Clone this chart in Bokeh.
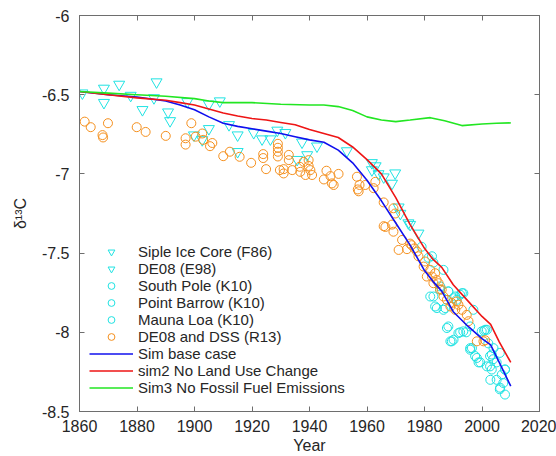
from bokeh.plotting import figure
from bokeh.models import LinearAxis, FixedTicker, Range1d, Legend, LegendItem
from bokeh.embed import file_html
from bokeh.resources import INLINE

# ---- data -------------------------------------------------------------
# ice-core / firn records (triangles)
siple_year = [1861, 1868.5, 1873.8, 1877.8, 1886.8, 1890.8, 1897.5, 1905, 1908.8,
              1912, 1920.6, 1928.8, 1937.4, 1942.6, 1953]
siple_d13c = [-6.49, -6.46, -6.435, -6.505, -6.42, -6.61, -6.545, -6.56, -6.54,
              -6.69, -6.74, -6.725, -6.80, -6.825, -6.855]

e98_year = [1868.5, 1881.9, 1885.9, 1891.5, 1899.8, 1902.7, 1905, 1915, 1915,
            1923.5, 1926.4, 1931.6, 1935.7, 1939.2, 1961.7, 1961.7, 1963, 1964,
            1965.8, 1968.7, 1969.8, 1971, 1971.6, 1974.4, 1975, 1977.9]
e98_d13c = [-6.55, -6.595, -6.52, -6.665, -6.755, -6.785, -6.715, -6.755, -6.86,
            -6.78, -6.78, -6.74, -6.91, -6.88, -6.93, -6.975, -6.95, -7.0,
            -7.02, -7.06, -6.995, -7.21, -7.25, -7.31, -7.32, -7.375]

# atmospheric flask records (cyan circles)
spo_year = [1981.4, 1982.6, 1983.1, 1985.5, 1986.6, 1988.3, 1990.7, 1992.4, 1993.5,
            1995.9, 1997, 1999.9, 2001.1, 2001.7, 2004, 2006.2, 2008]
spo_d13c = [-7.53, -7.52, -7.56, -7.71, -7.606, -7.742, -7.774, -7.763, -7.753,
            -7.963, -7.858, -7.994, -7.984, -7.984, -8.10, -8.13, -8.235]

brw_year = [1982, 1983.1, 1983.7, 1984.3, 1986.6, 1987.2, 1987.8, 1988.3, 1989,
            1989.5, 1990.1, 1991.8, 1993.5, 1995.9, 1996.5, 1997.6, 1998.2, 1998.8,
            2002.2, 2003.4, 2005.1, 2006.9]
brw_d13c = [-7.774, -7.774, -7.837, -7.847, -7.858, -7.847, -7.973, -7.963, -8.057,
            -8.057, -8.047, -8.005, -7.994, -8.11, -8.10, -8.15, -8.162, -8.19,
            -8.07, -8.14, -8.19, -8.267]

mlo_year = [1979, 1985.4, 1988.3, 1990.1, 1991.2, 1992.4, 1993, 1994.5, 1995.9,
            1999.4, 2000.7, 2001.7, 2002.8, 2002.8, 2002.9, 2003.4, 2003.9, 2005.1,
            2006.2, 2006.3, 2007.4, 2008, 2008]
mlo_d13c = [-7.46, -7.73, -7.742, -7.785, -7.795, -8.0, -7.753, -8.0, -8.10,
            -8.19, -7.99, -8.215, -8.15, -8.215, -8.30, -8.235, -8.17, -8.30,
            -8.36, -8.35, -8.32, -8.393, -8.235]

# DE08 and DSS firn/ice (orange circles)
r13_year = [1861.8, 1863.9, 1868, 1868.2, 1869.9, 1879.9, 1883, 1890, 1896.9, 1896.9,
            1898.9, 1900.4, 1902.7, 1903, 1905.4, 1906.2, 1910, 1912.3, 1915.7, 1919.7,
            1923.9, 1923.9, 1924.9, 1929, 1929, 1929, 1929, 1929.7, 1931, 1931,
            1932.8, 1932.8, 1934, 1936.6, 1936.8, 1938, 1938.6, 1939.7, 1939.7, 1940.3,
            1940.9, 1945, 1945.9, 1947.3, 1947.8, 1948.4, 1950.1, 1956.5, 1956.8, 1957.1,
            1957.4, 1959.4, 1962.3, 1962.9, 1965.8, 1965.8, 1966.4, 1968.7, 1969.2, 1969.2,
            1969.8, 1971, 1972.2, 1973.9, 1975, 1975.5, 1976.5, 1977.4, 1977.9, 1979.7,
            1980.2, 1980.8, 1982, 1982.6, 1983.1, 1983.7, 1984.2, 1984.9, 1985.4, 1986,
            1986.6, 1987.8, 1989, 1989.5, 1990.7, 1991.2, 1991.8, 1993, 1994.7, 1995.3,
            1998.2, 2000.5, 2001.1]
r13_d13c = [-6.67, -6.705, -6.755, -6.77, -6.68, -6.705, -6.735, -6.76, -6.775, -6.815,
            -6.68, -6.765, -6.745, -6.785, -6.825, -6.805, -6.888, -6.86, -6.892, -6.93,
            -6.875, -6.90, -6.97, -6.81, -6.835, -6.86, -6.89, -6.976, -6.97, -6.997,
            -6.88, -6.913, -6.976, -6.955, -6.987, -6.924, -7.007, -6.913, -6.95, -6.976,
            -7.007, -7.035, -6.98, -7.014, -7.06, -7.07, -7.0, -7.018, -7.098, -7.11,
            -7.07, -7.07, -7.09, -7.05, -7.18, -7.33, -7.335, -7.32, -7.217, -7.365,
            -7.25, -7.48, -7.417, -7.475, -7.44, -7.45, -7.47, -7.49, -7.52, -7.585,
            -7.553, -7.648, -7.606, -7.648, -7.69, -7.627, -7.67, -7.69, -7.73, -7.73,
            -7.774, -7.795, -7.837, -7.815, -7.858, -7.805, -7.826, -7.858, -7.89, -7.93,
            -8.057, -8.057, -8.05]

# model simulations
sim_year = [1860, 1870, 1880, 1890, 1895, 1900, 1905, 1910, 1915, 1920, 1925, 1930,
            1935, 1940, 1945, 1950, 1955, 1960, 1965, 1970, 1975, 1980, 1983, 1986,
            1990, 1995, 2000, 2003, 2006, 2010]
sim_base = [-6.48, -6.50, -6.515, -6.54, -6.565, -6.595, -6.64, -6.68, -6.70, -6.715,
            -6.73, -6.745, -6.765, -6.785, -6.80, -6.85, -6.93, -7.04, -7.17, -7.31,
            -7.45, -7.61, -7.68, -7.74, -7.87, -7.96, -8.04, -8.08, -8.19, -8.34]
sim_nolu = [-6.48, -6.50, -6.52, -6.535, -6.55, -6.565, -6.59, -6.615, -6.635, -6.65,
            -6.66, -6.675, -6.69, -6.72, -6.745, -6.77, -6.83, -6.91, -7.00, -7.15,
            -7.32, -7.47, -7.54, -7.59, -7.70, -7.80, -7.90, -7.95, -8.06, -8.19]

sim3_year = [1860, 1870, 1880, 1890, 1900, 1905, 1910, 1920, 1930, 1940, 1945, 1950,
             1955, 1960, 1965, 1970, 1975, 1982, 1987, 1993, 2000, 2005, 2010]
sim_noff = [-6.48, -6.49, -6.50, -6.51, -6.525, -6.54, -6.55, -6.55, -6.56, -6.565,
            -6.565, -6.575, -6.60, -6.64, -6.66, -6.67, -6.66, -6.645, -6.665, -6.695,
            -6.685, -6.68, -6.678]

x_ticks = [1860, 1880, 1900, 1920, 1940, 1960, 1980, 2000, 2020]
y_ticks = [-8.5, -8, -7.5, -7, -6.5, -6]
y_tick_text = ["-8.5", "-8", "-7.5", "-7", "-6.5", "-6"]

# ---- styling ----------------------------------------------------------
FONT = "Liberation Sans"
CYAN = "#1fe3e3"
ORANGE = "#f5901e"
AXIS = "#6e6e6e"
TEXT = "#262626"

p = figure(width=556, height=456, output_backend="svg", toolbar_location=None,
           x_range=Range1d(1860, 2020), y_range=Range1d(-8.5, -6),
           min_border_left=79, min_border_right=17, min_border_top=15,
           min_border_bottom=44, x_axis_label="Year", y_axis_label="δ¹³C")
p.grid.visible = False
p.outline_line_color = AXIS
p.outline_line_width = 1
p.background_fill_color = "white"
p.border_fill_color = "white"

r_siple = p.scatter(siple_year, siple_d13c, marker="inverted_triangle", size=11,
                    fill_alpha=0, line_color=CYAN, line_width=1)
r_e98 = p.scatter(e98_year, e98_d13c, marker="inverted_triangle", size=11,
                  fill_alpha=0, line_color=CYAN, line_width=1)
r_spo = p.scatter(spo_year, spo_d13c, marker="circle", size=9,
                  fill_alpha=0, line_color=CYAN, line_width=1)
r_brw = p.scatter(brw_year, brw_d13c, marker="circle", size=9,
                  fill_alpha=0, line_color=CYAN, line_width=1)
r_mlo = p.scatter(mlo_year, mlo_d13c, marker="circle", size=9,
                  fill_alpha=0, line_color=CYAN, line_width=1)
r_r13 = p.scatter(r13_year, r13_d13c, marker="circle", size=9,
                  fill_alpha=0, line_color=ORANGE, line_width=1)

r_base = p.line(sim_year, sim_base, line_color="#1010ee", line_width=1.6)
r_nolu = p.line(sim_year, sim_nolu, line_color="#ee1515", line_width=1.6)
r_noff = p.line(sim3_year, sim_noff, line_color="#22e622", line_width=1.6)

legend = Legend(items=[
    LegendItem(label="Siple Ice Core (F86)", renderers=[r_siple]),
    LegendItem(label="DE08 (E98)", renderers=[r_e98]),
    LegendItem(label="South Pole (K10)", renderers=[r_spo]),
    LegendItem(label="Point Barrow (K10)", renderers=[r_brw]),
    LegendItem(label="Mauna Loa (K10)", renderers=[r_mlo]),
    LegendItem(label="DE08 and DSS (R13)", renderers=[r_r13]),
    LegendItem(label="Sim base case", renderers=[r_base]),
    LegendItem(label="sim2 No Land Use Change", renderers=[r_nolu]),
    LegendItem(label="Sim3 No Fossil Fuel Emissions", renderers=[r_noff]),
], location=(10, 15), orientation="vertical")
legend.background_fill_alpha = 0
legend.border_line_alpha = 0
legend.padding = 0
legend.margin = 0
legend.spacing = 0
legend.glyph_width = 44
legend.glyph_height = 17
legend.label_height = 17
legend.label_standoff = 5
legend.label_text_font = FONT
legend.label_text_font_size = "15px"
legend.label_text_color = TEXT
p.add_layout(legend, "center")

# bottom / left axes
for ax in (p.xaxis[0], p.yaxis[0]):
    ax.major_tick_in = 5
    ax.major_tick_out = 0
    ax.minor_tick_line_color = None
    ax.axis_line_color = AXIS
    ax.major_tick_line_color = AXIS
    ax.major_label_text_font = FONT
    ax.major_label_text_font_size = "16px"
    ax.major_label_text_color = TEXT
    ax.axis_label_text_font = FONT
    ax.axis_label_text_font_size = "16px"
    ax.axis_label_text_font_style = "normal"
    ax.axis_label_text_color = TEXT

p.xaxis.ticker = FixedTicker(ticks=x_ticks)
p.yaxis.ticker = FixedTicker(ticks=y_ticks)
p.yaxis.major_label_overrides = {v: t for v, t in zip(y_ticks, y_tick_text)}
p.xaxis.major_label_standoff = 8
p.xaxis.axis_label_standoff = 2
p.yaxis.major_label_standoff = 10
p.yaxis.axis_label_standoff = 10

# mirrored tick marks (no labels) on the top and right edges
top = LinearAxis(ticker=FixedTicker(ticks=x_ticks),
                 major_label_overrides={v: "" for v in x_ticks})
right = LinearAxis(ticker=FixedTicker(ticks=y_ticks),
                   major_label_overrides={v: "" for v in y_ticks})
for ax in (top, right):
    ax.major_tick_in = 5
    ax.major_tick_out = 0
    ax.minor_tick_line_color = None
    ax.axis_line_color = AXIS
    ax.major_tick_line_color = AXIS
    ax.major_label_standoff = 0
p.add_layout(top, "above")
p.add_layout(right, "right")

open("out.html", "w").write(file_html(p, INLINE))
